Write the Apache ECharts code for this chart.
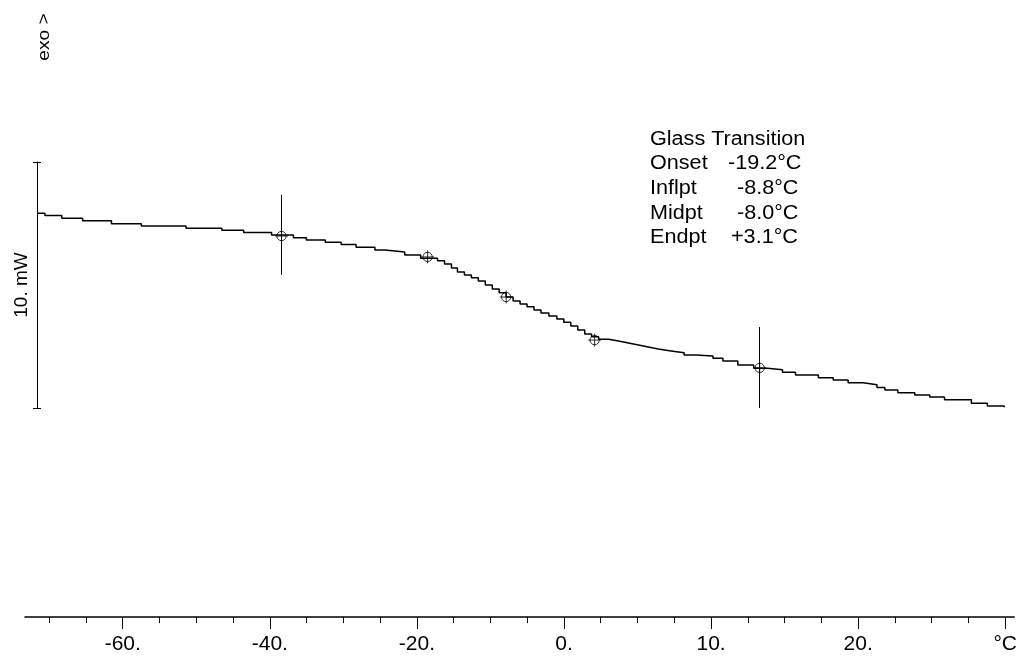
<!DOCTYPE html>
<html>
<head>
<meta charset="utf-8">
<script src="https://cdn.jsdelivr.net/npm/echarts@6/dist/echarts.min.js"></script>
<style>html,body{margin:0;padding:0;background:#fff;}#c{width:1020px;height:657px;}</style>
</head>
<body>
<div id="c"></div>
<script>
// ---- data ----
const tickValues = [-60, -40, -20, 0, 20, 40, 60];
const tickLabels = ['-60.', '-40.', '-20.', '0.', '10.', '20.', '°C'];
const minorTickValues = [-70, -65, -55, -50, -45, -35, -30, -25, -15, -10, -5, 5, 10, 15, 25, 30, 35, 45, 50, 55];

const curveX = [-71.67, -70.58, -68.29, -65.45, -61.53, -57.47, -51.39, -46.52, -43.55, -39.76,
  -36.79, -35.03, -32.46, -30.30, -28.27, -25.71, -24.35, -21.65, -19.49,
  -17.19, -16.24, -15.30, -14.49, -13.54, -12.59, -11.65, -10.70, -9.75, -8.81, -7.86, -6.92,
  -5.97, -5.02, -4.08, -3.13, -2.05, -0.97, -0.02, 0.93, 1.87, 2.82, 3.76, 4.71, 6.06, 7.41,
  8.77, 10.12, 11.47, 12.82, 14.58, 16.34, 17.96, 20.26, 21.61, 23.64, 25.80, 27.69, 29.72,
  31.48, 34.59, 36.61, 38.64, 40.67, 42.56, 43.64, 45.40, 47.70, 49.73, 51.75, 55.40, 57.57, 59.86];
const curveY = [7.92, 7.82, 7.71, 7.61, 7.49, 7.40, 7.31, 7.22, 7.13, 7.03,
  6.92, 6.83, 6.74, 6.65, 6.53, 6.42, 6.34, 6.22, 6.09,
  5.98, 5.85, 5.69, 5.53, 5.41, 5.29, 5.16, 5.00, 4.84, 4.68, 4.51, 4.35,
  4.23, 4.11, 3.98, 3.86, 3.74, 3.62, 3.48, 3.33, 3.17, 3.01, 2.89, 2.79, 2.72, 2.64,
  2.56, 2.48, 2.40, 2.32, 2.24, 2.15, 2.11, 2.02, 1.91, 1.75, 1.61, 1.55, 1.45,
  1.34, 1.23, 1.14, 1.02, 0.94, 0.83, 0.73, 0.62, 0.53, 0.44, 0.33, 0.19, 0.08, 0.03];

const markerX = [-38.41, -18.54, -7.86, 4.17, 26.61];
const markerY = [6.99, 6.14, 4.51, 2.76, 1.63];

const tangentX = [-38.41, 26.61];
const tangentTop = [8.66, 3.29];
const tangentBottom = [5.41, 0.0];

const scaleBarValues = [0, 10];
const scaleBarName = '10. mW';
const exoLabel = 'exo >';

const annTitle = 'Glass Transition';
const annNames = ['Onset', 'Inflpt', 'Midpt', 'Endpt'];
const annValues = ['-19.2°C', '-8.8°C', '-8.0°C', '+3.1°C'];

// ---- layout ----
const FONT = '"Liberation Sans", Arial, sans-serif';
const xMin = -73.29, xMax = 61.22;
const annValueX = [728, 737, 737, 731];

const curveData = curveX.map((x, i) => [x, curveY[i]]);
const markerData = markerX.map((x, i) => [x, markerY[i]]);
const tangentLines = tangentX.map((x, i) => [{coord: [x, tangentTop[i]]}, {coord: [x, tangentBottom[i]]}]);

const graphics = [];
graphics.push({type: 'text', x: 44, y: 37, rotation: Math.PI / 2, scaleX: 1.13,
  style: {text: exoLabel, font: '17px ' + FONT, fill: '#000', align: 'center', verticalAlign: 'middle'}});
graphics.push({type: 'text', x: 650, y: 139, scaleX: 1.08,
  style: {text: annTitle, font: '20px ' + FONT, fill: '#000', align: 'left', verticalAlign: 'middle'}});
annNames.forEach((n, i) => {
  const y = 139 + (i + 1) * 24.7;
  graphics.push({type: 'text', x: 650, y: y, scaleX: 1.08,
    style: {text: n, font: '20px ' + FONT, fill: '#000', align: 'left', verticalAlign: 'middle'}});
  graphics.push({type: 'text', x: annValueX[i], y: y, scaleX: 1.08,
    style: {text: annValues[i], font: '20px ' + FONT, fill: '#000', align: 'left', verticalAlign: 'middle'}});
});

const chart = echarts.init(document.getElementById('c'), null, {renderer: 'canvas'});
chart.setOption({
  animation: false,
  backgroundColor: '#fff',
  grid: [
    {left: 25, right: 0, top: 162, height: 455},
    {left: 37, top: 162, width: 1, height: 246}
  ],
  xAxis: [
    {gridIndex: 0, type: 'value', min: xMin, max: xMax, position: 'bottom',
      axisLine: {show: true, onZero: false, lineStyle: {color: '#000', width: 1.5}},
      axisTick: {show: true, customValues: tickValues, length: 12, lineStyle: {color: '#000', width: 1}},
      axisLabel: {show: true, customValues: tickValues, margin: 17, color: '#000', fontSize: 21, fontFamily: FONT,
        formatter: v => { const k = tickValues.indexOf(v); return k >= 0 ? tickLabels[k] : ''; }},
      splitLine: {show: false}},
    {gridIndex: 0, type: 'value', min: xMin, max: xMax, position: 'bottom', offset: 0,
      axisLine: {show: false, onZero: false},
      axisTick: {show: true, customValues: minorTickValues, length: 6, lineStyle: {color: '#000', width: 1}},
      axisLabel: {show: false}, splitLine: {show: false}},
    {gridIndex: 1, type: 'value', show: false}
  ],
  yAxis: [
    {gridIndex: 0, type: 'value', min: -8.5, max: 10, show: false},
    {gridIndex: 1, type: 'value', min: 0, max: 10, position: 'left',
      axisLine: {show: true, lineStyle: {color: '#000', width: 1}},
      axisTick: {show: true, customValues: scaleBarValues, length: 4, inside: false, lineStyle: {color: '#000'}},
      axisLabel: {show: false}, splitLine: {show: false},
      name: scaleBarName, nameLocation: 'middle', nameRotate: 90, nameGap: 6,
      nameTextStyle: {color: '#000', fontSize: 19, fontFamily: FONT}},
    {gridIndex: 1, type: 'value', min: 0, max: 10, position: 'left', offset: 0,
      axisLine: {show: false},
      axisTick: {show: true, customValues: scaleBarValues, length: 4, inside: true, lineStyle: {color: '#000'}},
      axisLabel: {show: false}, splitLine: {show: false}}
  ],
  graphic: graphics,
  series: [
    {type: 'line', xAxisIndex: 0, yAxisIndex: 0, data: curveData, step: 'end', showSymbol: false, symbol: 'none',
      lineStyle: {color: '#000', width: 1.5}, silent: true,
      markLine: {silent: true, symbol: ['none', 'none'], label: {show: false},
        lineStyle: {color: '#000', type: 'solid', width: 1}, data: tangentLines}},
    {type: 'scatter', xAxisIndex: 0, yAxisIndex: 0, data: markerData, silent: true,
      symbol: 'path://M12,7 A5,5 0 1,1 2,7 A5,5 0 1,1 12,7 Z M7,0 L7,14 M0,7 L14,7',
      symbolSize: 13, itemStyle: {color: 'none', borderColor: '#000', borderWidth: 1}}
  ]
});
</script>
</body>
</html>
